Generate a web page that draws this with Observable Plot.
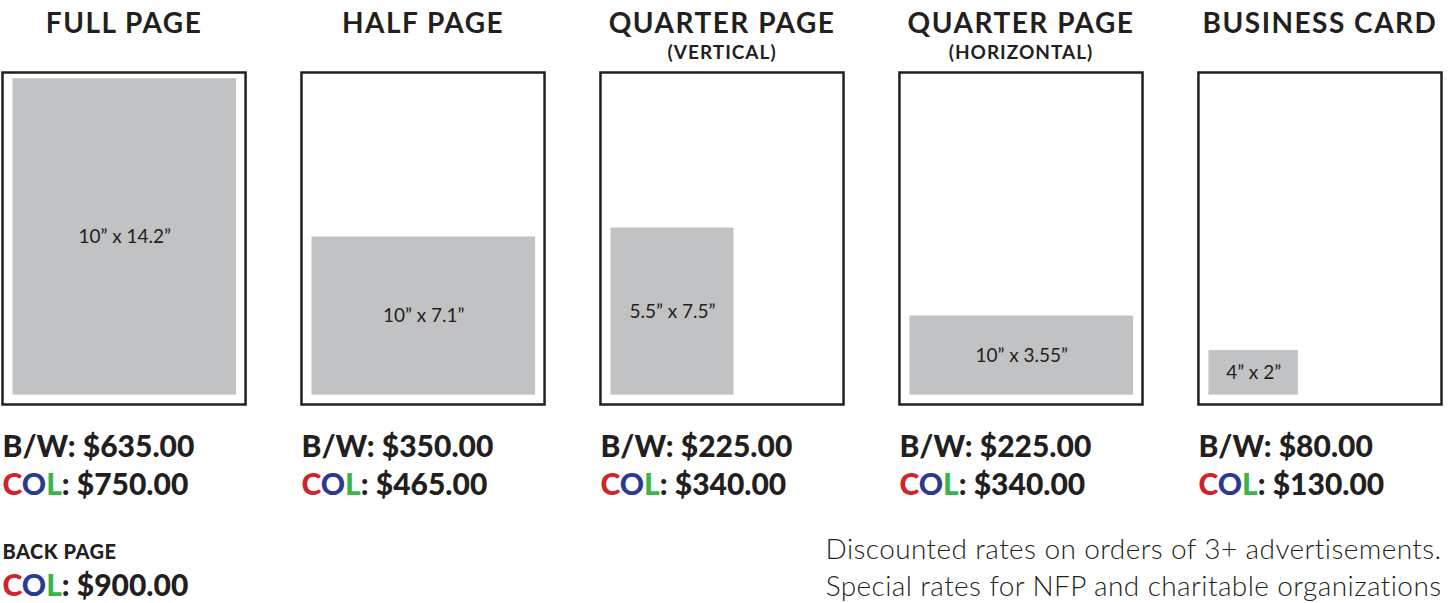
<!DOCTYPE html>
<html>
<head>
<meta charset="utf-8">
<script src="https://cdn.jsdelivr.net/npm/d3@7"></script>
<script src="https://cdn.jsdelivr.net/npm/@observablehq/plot@0.6"></script>
<style>
  html, body { margin: 0; padding: 0; background: #fff; }
  svg { display: block; }
</style>
</head>
<body>
<div id="chart"></div>
<script>
// ---- data ----
const ids = ["full", "half", "quarterV", "quarterH", "card"];
const titles = ["FULL PAGE", "HALF PAGE", "QUARTER PAGE", "QUARTER PAGE", "BUSINESS CARD"];
const subtitles = ["", "", "(VERTICAL)", "(HORIZONTAL)", ""];
const adWidths = [10, 10, 5.5, 10, 4];      // inches
const adHeights = [14.2, 7.1, 7.5, 3.55, 2]; // inches
const sizeLabels = ["10” x 14.2”", "10” x 7.1”", "5.5” x 7.5”", "10” x 3.55”", "4” x 2”"];
const bwPrices = [635, 350, 225, 225, 80];
const colPrices = [750, 465, 340, 340, 130];
const backPageLabel = "BACK PAGE";
const backPageCol = 900;
const notes = [
  "Discounted rates on orders of 3+ advertisements.",
  "Special rates for NFP and charitable organizations"
];

// ---- page geometry (inches) ----
const pageWidth = 10.87;
const pageHeight = 14.9;
const insetX = 0.47;
const insetY = 0.42;

const rows = ids.map((id, i) => ({
  id, title: titles[i], subtitle: subtitles[i],
  w: adWidths[i], h: adHeights[i], label: sizeLabels[i],
  bw: bwPrices[i], col: colPrices[i]
}));

const ink = "#231f20";
const money = v => "$" + v.toFixed(2);

const chart = Plot.plot({
  width: 1448,
  height: 603,
  marginLeft: 2,
  marginRight: 7,
  marginTop: 72,
  marginBottom: 199,
  style: { fontFamily: "Lato, sans-serif", background: "#fff", overflow: "visible" },
  fx: { domain: ids, paddingInner: 0.187, paddingOuter: 0, round: false, axis: null, label: null },
  x: { domain: [0, pageWidth], axis: null },
  y: { domain: [0, pageHeight], axis: null },
  marks: [
    Plot.rect(rows, {
      fx: "id",
      x1: () => insetX, x2: d => insetX + d.w,
      y1: () => insetY, y2: d => insetY + d.h,
      fill: "#c1c2c4"
    }),
    Plot.frame({ stroke: ink, strokeWidth: 2.5 }),
    Plot.text(rows, {
      fx: "id",
      x: d => insetX + d.w / 2,
      y: d => insetY + d.h / 2,
      text: "label",
      fontSize: 19,
      fill: ink
    }),
    Plot.text(rows, {
      fx: "id", frameAnchor: "top", dy: -59,
      text: "title", fontSize: 28, fontWeight: 700, fill: ink
    }),
    Plot.text(rows.filter(d => d.subtitle), {
      fx: "id", frameAnchor: "top", dy: -27,
      text: "subtitle", fontSize: 19, fontWeight: 700, fill: ink
    }),
    Plot.text(rows, {
      fx: "id", frameAnchor: "bottom-left", textAnchor: "start", dy: 52,
      text: d => "B/W: " + money(d.bw), fontSize: 30, fontWeight: 900, fill: ink
    }),
    Plot.text(rows, {
      fx: "id", frameAnchor: "bottom-left", textAnchor: "start", dy: 90,
      text: d => "COL: " + money(d.col), fontSize: 30, fontWeight: 900, fill: ink
    }),
    Plot.text(rows.slice(0, 1), {
      fx: "id", frameAnchor: "bottom-left", textAnchor: "start", dy: 154,
      text: () => backPageLabel, fontSize: 20, fontWeight: 900, fill: ink
    }),
    Plot.text(rows.slice(0, 1), {
      fx: "id", frameAnchor: "bottom-left", textAnchor: "start", dy: 191,
      text: () => "COL: " + money(backPageCol), fontSize: 30, fontWeight: 900, fill: ink
    }),
    Plot.text([notes.join("\n")], {
      fx: () => ids[ids.length - 1], frameAnchor: "bottom-right", textAnchor: "end", dy: 191,
      text: d => d, fontSize: 28, fontWeight: 300, lineHeight: 1.29, fill: ink
    })
  ]
});

// letter spacing tweaks and coloured C, O, L letters
const titleSet = new Set(titles), subSet = new Set(subtitles.filter(Boolean));
d3.select(chart).selectAll("text").each(function () {
  const t = this.textContent;
  const el = d3.select(this);
  if (titleSet.has(t)) el.attr("letter-spacing", "1.5px");
  else if (subSet.has(t)) el.attr("letter-spacing", "1px");
  else if (t === backPageLabel) el.attr("letter-spacing", "0.5px");
  if (t.startsWith("COL:") && this.children.length === 0) {
    el.text(null);
    el.append("tspan").attr("fill", "#d2232a").text("C");
    el.append("tspan").attr("fill", "#2b3990").text("O");
    el.append("tspan").attr("fill", "#39b54a").text("L");
    el.append("tspan").text(t.slice(3));
  }
});
d3.select(chart).selectAll("tspan").each(function () {
  const t = this.textContent;
  if (notes.includes(t)) d3.select(this.parentNode).attr("letter-spacing", "0.4px");
});

document.getElementById("chart").appendChild(chart);
</script>
</body>
</html>
